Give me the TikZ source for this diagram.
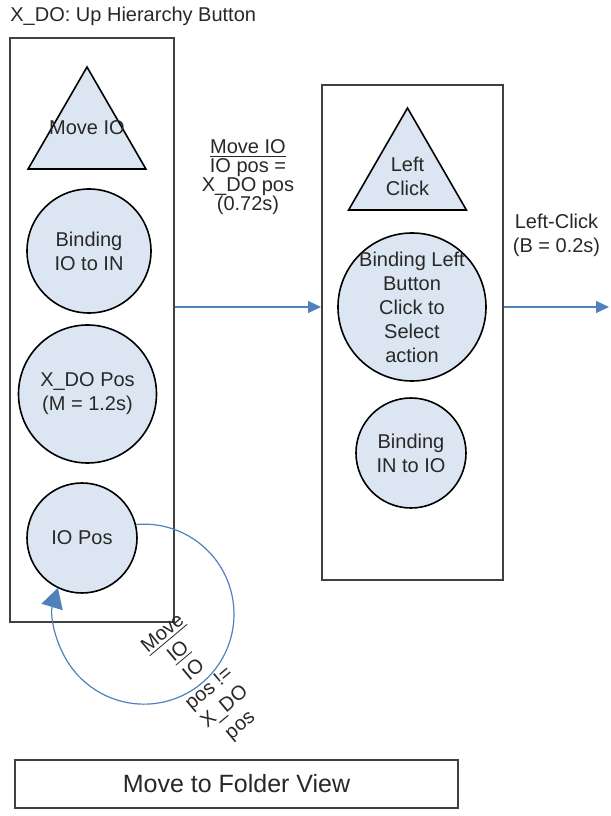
\documentclass[tikz,border=0pt]{standalone}
\usepackage{fontspec}
\setmainfont{Liberation Sans}
\usetikzlibrary{arrows.meta,shapes.geometric,fit}
\definecolor{bubblefill}{RGB}{220,230,242}
\definecolor{flowblue}{RGB}{79,129,189}
\definecolor{framegray}{RGB}{64,64,64}
\definecolor{inkgray}{RGB}{40,40,40}
\tikzset{
	shapenode/.style = {align=center, inner sep=0pt, font=\fontsize{10}{12}\selectfont,
		text=inkgray, draw=black, line width=0.8pt, fill=bubblefill},
	bubble/.style = {shapenode, circle},
	tri/.style = {shapenode, regular polygon, regular polygon sides=3, minimum size=68pt},
	panel/.style = {rectangle, draw=framegray, line width=1pt, inner sep=0pt},
	caption/.style = {align=center, inner sep=0pt, text=inkgray,
		font=\fontsize{10}{12}\selectfont},
	flow/.style = {draw=flowblue, line width=0.6pt, -{Triangle[length=6.5pt,width=6pt]}}
}

\begin{document}
\begin{tikzpicture}[x=0.5pt, y=0.5pt]
\useasboundingbox (0,0) rectangle (611,816);
\node (title) [caption, anchor=west] at (10,800) {X\_DO: Up Hierarchy Button};
%----------------- left column --------------
\node (lbox) [panel, fit={(10,194) (174,778)}] {};
\node (moveio) [tri] at (87,681) {};
\node (moveio-t) [caption] at (87,688) {Move IO};
\node (bindio) [bubble, minimum size=62pt] at (89,565) {Binding\\IO to IN};
\node (xdopos) [bubble, minimum size=69pt] at (87.5,422) {X\_DO Pos\\(M = 1.2s)};
\node (iopos) [bubble, minimum size=55pt] at (82,278) {IO Pos};
%----------------- right column --------------
\node (rbox) [panel, fit={(322,236) (503,731)}] {};
\node (lclick) [tri] at (407.5,640) {};
\node (lclick-t) [caption] at (407.5,640) {Left\\Click};
\node (bindl) [bubble, minimum size=74pt] at (412,509) {};
\node (bindl-t) [caption] at (bindl) {Binding Left\\Button\\Click to\\Select\\action};
\node (bindin) [bubble, minimum size=55pt] at (411,363) {Binding\\IN to IO};
%----------------- bottom --------------
\node (folder) [panel, minimum width=221.5pt, minimum height=24pt, text=inkgray,
	font=\fontsize{12.5}{15}\selectfont] at (236.5,32) {Move to Folder View};
\coordinate (out) at (609,509);
%----------------- transitions --------------
\draw [flow] (bindl -| lbox.east) -- node (mvlbl) [caption, above=46pt,
	font=\fontsize{10}{10}\selectfont]
	{\underline{Move IO}\\[-0.6pt]IO pos =\\[-0.6pt]X\_DO pos\\[-0.6pt](0.72s)}
	(bindl -| rbox.west);
\draw [flow] (bindl -| rbox.east) -- node (lclbl) [caption, above=25pt]
	{Left-Click\\(B = 0.2s)} (out);
\draw [flow, -{Triangle[length=10pt,width=11pt]}] (iopos.14)
	arc [start angle=95, end angle=-197, radius=45pt];
\node (looplbl) [caption, rotate=40] at (202,136)
	{\underline{Move}\\\underline{IO}\\IO\\pos !=\\X\_DO\\pos};
\end{tikzpicture}
\end{document}
